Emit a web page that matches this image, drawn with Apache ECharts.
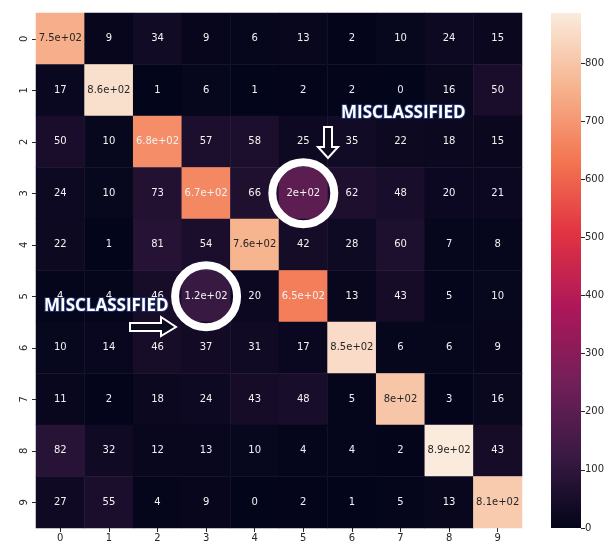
<!DOCTYPE html>
<html>
<head>
<meta charset="utf-8">
<script src="https://cdn.jsdelivr.net/npm/echarts@6/dist/echarts.min.js"></script>
<style>
  html, body { margin: 0; padding: 0; background: #fff; }
  #chart { width: 609px; height: 543px; }
</style>
</head>
<body>
<div id="chart"></div>
<script>
// confusion matrix, rows = true label, cols = predicted
const labels = ["0", "1", "2", "3", "4", "5", "6", "7", "8", "9"];
const row0 = [750, 9, 34, 9, 6, 13, 2, 10, 24, 15];
const row1 = [17, 860, 1, 6, 1, 2, 2, 0, 16, 50];
const row2 = [50, 10, 680, 57, 58, 25, 35, 22, 18, 15];
const row3 = [24, 10, 73, 670, 66, 200, 62, 48, 20, 21];
const row4 = [22, 1, 81, 54, 760, 42, 28, 60, 7, 8];
const row5 = [4, 4, 46, 120, 20, 650, 13, 43, 5, 10];
const row6 = [10, 14, 46, 37, 31, 17, 850, 6, 6, 9];
const row7 = [11, 2, 18, 24, 43, 48, 5, 800, 3, 16];
const row8 = [82, 32, 12, 13, 10, 4, 4, 2, 886, 43];
const row9 = [27, 55, 4, 9, 0, 2, 1, 5, 13, 810];
const matrix = [row0, row1, row2, row3, row4, row5, row6, row7, row8, row9];

const colorbarTicks = [0, 100, 200, 300, 400, 500, 600, 700, 800];
const highlighted = [[5, 3], [3, 5]]; // [col, row] of circled cells

// seaborn "rocket" (approx)
const rocket = ["#03051a", "#3a1a44", "#741f59", "#ad1759", "#e13342", "#f37651", "#f6b48f", "#faebdd"];

const vmax = Math.max(...matrix.flat());

// matplotlib ".2g"
function fmt2g(v) {
  if (Math.abs(v) < 100) return String(Number(v.toPrecision(2)));
  let s = v.toExponential(1);
  let [m, e] = s.split("e");
  m = m.replace(/\.0$/, "");
  const sign = e[0];
  let digits = e.slice(1);
  if (digits.length < 2) digits = "0" + digits;
  return m + "e" + sign + digits;
}

const heatData = [];
matrix.forEach((row, r) => {
  row.forEach((v, c) => {
    heatData.push({
      value: [c, r, v],
      label: { color: v > 700 ? "#262626" : "#f2f2f2" }
    });
  });
});

const chart = echarts.init(document.getElementById("chart"), null, { renderer: "canvas" });

const tickFont = { fontFamily: "DejaVu Sans", fontSize: 10, color: "#262626" };

chart.setOption({
  animation: false,
  backgroundColor: "#ffffff",
  grid: [
    { left: 36, top: 13, width: 486, height: 515 },
    { left: 551, top: 13, width: 30, height: 515 }
  ],
  xAxis: [
    {
      type: "category", gridIndex: 0, data: labels,
      axisLine: { show: false },
      axisTick: { show: true, alignWithLabel: true, length: 4, lineStyle: { color: "#262626" } },
      axisLabel: Object.assign({ margin: 5 }, tickFont),
      splitLine: { show: false }
    },
    {
      type: "category", gridIndex: 1, data: ["cb"],
      show: false
    }
  ],
  yAxis: [
    {
      type: "category", gridIndex: 0, data: labels, inverse: true,
      axisLine: { show: false },
      axisTick: { show: true, alignWithLabel: true, length: 4, lineStyle: { color: "#262626" } },
      axisLabel: Object.assign({ margin: 7, rotate: 90 }, tickFont),
      splitLine: { show: false }
    },
    {
      type: "value", gridIndex: 1, position: "right",
      min: 0, max: vmax, interval: 100,
      axisLine: { show: false },
      axisTick: { show: true, length: 4, lineStyle: { color: "#262626" } },
      axisLabel: Object.assign({ margin: 4, showMaxLabel: false }, tickFont),
      splitLine: { show: false }
    }
  ],
  visualMap: {
    show: false, type: "continuous", seriesIndex: 0,
    min: 0, max: vmax, inRange: { color: rocket }
  },
  series: [
    {
      type: "heatmap",
      xAxisIndex: 0, yAxisIndex: 0,
      data: heatData,
      label: {
        show: true,
        fontFamily: "DejaVu Sans",
        fontSize: 10,
        formatter: p => fmt2g(p.value[2])
      },
      emphasis: { disabled: true }
    },
    {
      type: "bar",
      xAxisIndex: 1, yAxisIndex: 1,
      data: [vmax],
      barWidth: "100%",
      silent: true,
      itemStyle: {
        color: {
          type: "linear", x: 0, y: 1, x2: 0, y2: 0,
          colorStops: rocket.map((c, i) => ({ offset: i / (rocket.length - 1), color: c }))
        }
      }
    }
  ]
});

// annotation overlay: circles around two misclassified cells, captions, arrows
const circles = highlighted.map(([c, r]) => {
  const [cx, cy] = chart.convertToPixel({ gridIndex: 0 }, [c, r]);
  return {
    type: "circle",
    shape: { cx: cx, cy: cy, r: 31 },
    style: { fill: "none", stroke: "#ffffff", lineWidth: 8 },
    z: 100
  };
});

const captionStyle = {
  text: "MISCLASSIFIED",
  font: "bold 17px 'Open Sans'",
  fill: "#ffffff",
  stroke: "#1f2f6b",
  lineWidth: 2
};

chart.setOption({
  graphic: circles.concat([
    { type: "text", left: 340, top: 104, style: Object.assign({}, captionStyle), z: 101 },
    { type: "text", left: 43, top: 297, style: Object.assign({}, captionStyle), z: 101 },
    {
      type: "polygon", z: 101,
      shape: { points: [[324, 127], [332, 127], [332, 147], [338, 147], [328, 158], [318, 147], [324, 147]] },
      style: { fill: "#0b0a1e", stroke: "#ffffff", lineWidth: 2 }
    },
    {
      type: "polygon", z: 101,
      shape: { points: [[130, 323], [161, 323], [161, 317], [176, 327], [161, 336], [161, 331], [130, 331]] },
      style: { fill: "#0b0a1e", stroke: "#ffffff", lineWidth: 2 }
    }
  ])
});
</script>
</body>
</html>
